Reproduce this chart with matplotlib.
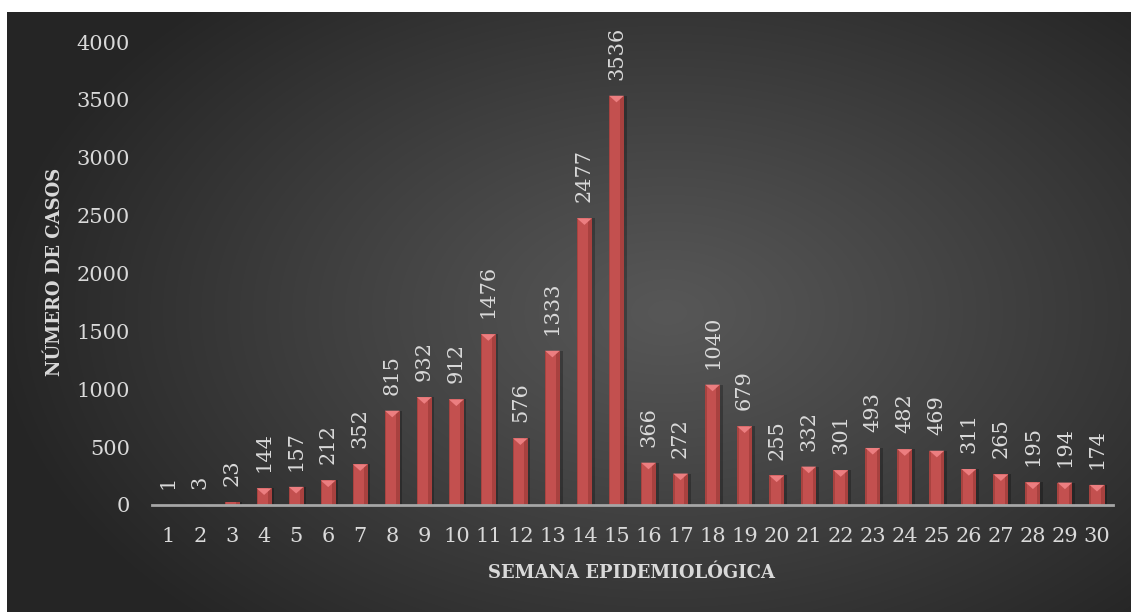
import numpy as np
import matplotlib
matplotlib.use('Agg')
import matplotlib.pyplot as plt
from matplotlib.path import Path
from matplotlib.transforms import offset_copy

# Casos por semana epidemiológica
semanas = list(range(1, 31))
casos = [1, 3, 23, 144, 157, 212, 352, 815, 932, 912,
         1476, 576, 1333, 2477, 3536, 366, 272, 1040, 679, 255,
         332, 301, 493, 482, 469, 311, 265, 195, 194, 174]
y_ticks = [0, 500, 1000, 1500, 2000, 2500, 3000, 3500, 4000]

plt.rcParams['font.family'] = ['DejaVu Serif']
txt_color = '#D9D9D9'

fig = plt.figure(figsize=(11.31, 6.12), dpi=100)
fig.patch.set_facecolor('white')

# radial gradient background (starts a bit in from the top/left edge)
bg = fig.add_axes([7 / 1131, 0, 1 - 7 / 1131, 1 - 12 / 612])
h, w = 600, 1124
yy, xx = np.mgrid[0:h, 0:w]
cx, cy = 660, 300
r = np.sqrt(((xx - cx) / 680.0) ** 2 + ((yy - cy) / 430.0) ** 2)
r = np.clip(r, 0, 1)
shade = 0x57 - (0x57 - 0x25) * r ** 1.1
img = np.dstack([shade, shade, shade]) / 255.0
bg.imshow(img, aspect='auto', interpolation='bilinear')
bg.set_axis_off()

ax = fig.add_axes([152 / 1131, (612 - 505) / 612, 961 / 1131, 463 / 612])
ax.patch.set_alpha(0)

x = np.array(semanas)
bw = 0.47
# soft shadow to the right of each bar
ax.bar(x + 0.08, casos, width=bw, color='black', alpha=0.25, zorder=1)
ax.bar(x, casos, width=bw, color='#C3504F', zorder=2)
# darker right edge / thin dark left edge (bevel look)
ax.bar(x + bw * 0.38, casos, width=bw * 0.24, color='#A8413F', zorder=3)
ax.bar(x - bw * 0.45, casos, width=bw * 0.1, color='#A84340', zorder=3)

# bevel triangle at the top of each bar
bevel = Path([(-1, 0.45), (1, 0.45), (0, -0.45), (-1, 0.45)],
             [Path.MOVETO, Path.LINETO, Path.LINETO, Path.CLOSEPOLY])
tri_tr = offset_copy(ax.transData, fig=fig, x=0, y=-2.4, units='points')
vals = np.array(casos)
mask = vals > 40
ax.scatter(x[mask], vals[mask], marker=bevel, s=112, color='#EC7E80',
           edgecolors='none', zorder=4, transform=tri_tr)

for xi, v in zip(semanas, casos):
    ax.annotate(str(v), (xi, v), xytext=(0, 11.5), textcoords='offset points',
                ha='center', va='bottom', rotation=90, color=txt_color,
                fontsize=15)

ax.set_xlim(0.5, 30.5)
ax.set_ylim(0, 4000)
ax.set_xticks(semanas)
ax.set_xticklabels([str(s) for s in semanas])
ax.set_yticks(y_ticks)
ax.tick_params(axis='both', length=0, colors=txt_color, labelsize=15)
ax.tick_params(axis='y', pad=16)
ax.tick_params(axis='x', pad=16)

for s in ['top', 'right', 'left']:
    ax.spines[s].set_visible(False)
ax.spines['bottom'].set_color('#A6A6A6')
ax.spines['bottom'].set_linewidth(2)
ax.spines['bottom'].set_zorder(5)

fig.text(55 / 1131, 1 - 272 / 612, 'NÚMERO DE CASOS', rotation=90,
         ha='center', va='center', color=txt_color, fontsize=13,
         fontweight='bold')
fig.text(631 / 1131, 1 - 573 / 612, 'SEMANA EPIDEMIOLÓGICA',
         ha='center', va='center', color=txt_color, fontsize=13,
         fontweight='bold')

fig.savefig('out.png', dpi=100)
